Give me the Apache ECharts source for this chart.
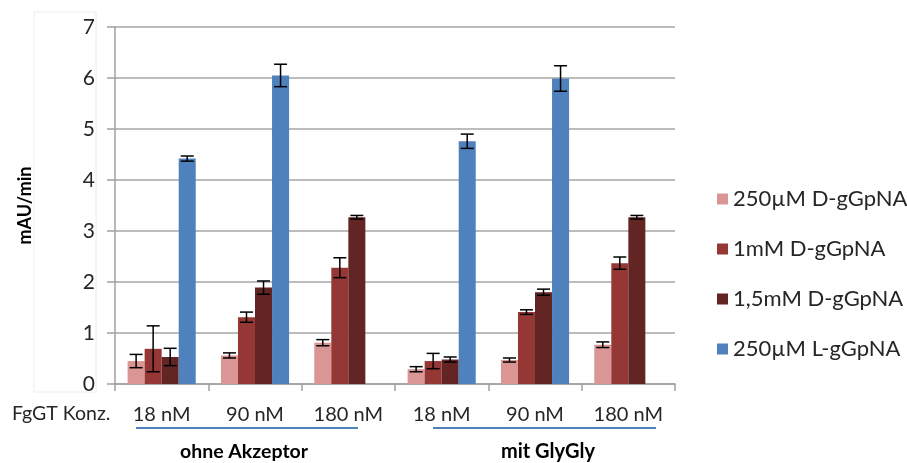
<!DOCTYPE html>
<html>
<head>
<meta charset="utf-8">
<script src="https://cdn.jsdelivr.net/npm/echarts@6/dist/echarts.min.js"></script>
<style>
  html, body { margin: 0; padding: 0; background: #fff; }
  #chart { width: 907px; height: 463px; }
</style>
</head>
<body>
<div id="chart"></div>
<script>
const categories = ['18 nM', '90 nM', '180 nM', '18 nM', '90 nM', '180 nM']
const seriesNames = ['250µM D-gGpNA', '1mM D-gGpNA', '1,5mM D-gGpNA', '250µM L-gGpNA']
const colors = ['#d99694', '#953735', '#632523', '#4f81bd']

// means per condition (ohne Akzeptor x3, mit GlyGly x3)
const d250 = [0.45, 0.56, 0.81, 0.29, 0.47, 0.77]
const d1mM = [0.69, 1.31, 2.28, 0.45, 1.41, 2.37]
const d15mM = [0.53, 1.89, 3.27, 0.48, 1.80, 3.27]
const l250 = [4.42, 6.05, null, 4.76, 5.99, null]

// error (+/-)
const d250Err = [0.13, 0.05, 0.06, 0.05, 0.04, 0.055]
const d1mMErr = [0.45, 0.10, 0.195, 0.15, 0.045, 0.12]
const d15mMErr = [0.17, 0.13, 0.035, 0.05, 0.06, 0.035]
const l250Err = [0.05, 0.22, null, 0.14, 0.25, null]

const values = [d250, d1mM, d15mM, l250]
const errors = [d250Err, d1mMErr, d15mMErr, l250Err]

const font = 'Lato, "Open Sans", sans-serif'
const gapPct = 27

const errData = []
values.forEach((vals, s) => {
  vals.forEach((v, i) => {
    if (v != null) errData.push([i, s, v, errors[s][i]])
  })
})

const renderErr = (params, api) => {
  const cat = api.value(0)
  const s = api.value(1)
  const v = api.value(2)
  const e = api.value(3)
  const center = api.coord([cat, v])
  const band = api.size([1, 0])[0]
  const bw = band * (1 - gapPct / 100) / 4
  const x = center[0] + (s - 1.5) * bw
  const top = api.coord([cat, v + e])[1]
  const bot = api.coord([cat, v - e])[1]
  const half = 6.5
  const style = { stroke: '#000', lineWidth: 1.5 }
  return {
    type: 'group',
    children: [
      { type: 'line', shape: { x1: x, y1: top, x2: x, y2: bot }, style },
      { type: 'line', shape: { x1: x - half, y1: top, x2: x + half, y2: top }, style },
      { type: 'line', shape: { x1: x - half, y1: bot, x2: x + half, y2: bot }, style }
    ]
  }
}

const myChart = echarts.init(document.getElementById('chart'))

const option = {
  animation: false,
  textStyle: { fontFamily: font },
  grid: { left: 115, right: 232, top: 27, bottom: 79 },
  legend: {
    data: seriesNames,
    orient: 'vertical',
    left: 712,
    top: 183,
    icon: 'rect',
    itemWidth: 11,
    itemHeight: 11,
    itemGap: 28,
    textStyle: { fontSize: 22, color: '#262626', fontFamily: font, lineHeight: 22 }
  },
  xAxis: {
    type: 'category',
    data: categories,
    axisLine: { lineStyle: { color: '#a0a0a0', width: 1.5 } },
    axisTick: { show: true, interval: 0, length: 7, lineStyle: { color: '#a0a0a0', width: 1.5 } },
    axisLabel: { interval: 0, fontSize: 20, color: '#262626', margin: 21 },
    splitLine: { show: false }
  },
  yAxis: {
    type: 'value',
    min: 0,
    max: 7,
    interval: 1,
    name: 'mAU/min',
    nameLocation: 'middle',
    nameGap: 81,
    nameTextStyle: { fontSize: 18, fontWeight: 'bold', color: '#000' },
    axisLine: { show: true, lineStyle: { color: '#a0a0a0', width: 1.5 } },
    axisTick: { show: true, length: 8, lineStyle: { color: '#a0a0a0', width: 1.5 } },
    axisLabel: { fontSize: 21, color: '#262626', margin: 20 },
    splitLine: { lineStyle: { color: '#a6a6a6', width: 1.5 } }
  },
  graphic: [
    { type: 'rect', z: -1, shape: { x: 34, y: 12, width: 62, height: 380 }, style: { fill: 'none', stroke: '#ececec', lineWidth: 1 } },
    { type: 'text', left: 12, top: 404, style: { text: 'FgGT Konz.', fontSize: 19.5, fill: '#262626', fontFamily: font } },
    { type: 'line', shape: { x1: 136, y1: 428, x2: 358, y2: 428 }, style: { stroke: '#4f81bd', lineWidth: 2 } },
    { type: 'line', shape: { x1: 433, y1: 428, x2: 656, y2: 428 }, style: { stroke: '#4f81bd', lineWidth: 2 } },
    { type: 'text', x: 244, y: 452, style: { text: 'ohne Akzeptor', fontSize: 19.5, fontWeight: 'bold', fill: '#000', fontFamily: font, align: 'center', verticalAlign: 'middle' } },
    { type: 'text', x: 548, y: 452, style: { text: 'mit GlyGly', fontSize: 20, fontWeight: 'bold', fill: '#000', fontFamily: font, align: 'center', verticalAlign: 'middle' } }
  ],
  series: [
    ...values.map((vals, s) => ({
      name: seriesNames[s],
      type: 'bar',
      data: vals,
      barGap: '0%',
      barCategoryGap: gapPct + '%',
      itemStyle: { color: colors[s] }
    })),
    {
      type: 'custom',
      name: 'err',
      data: errData,
      encode: { x: 0, y: 2 },
      renderItem: renderErr,
      z: 5
    }
  ]
}

myChart.setOption(option)
</script>
</body>
</html>
